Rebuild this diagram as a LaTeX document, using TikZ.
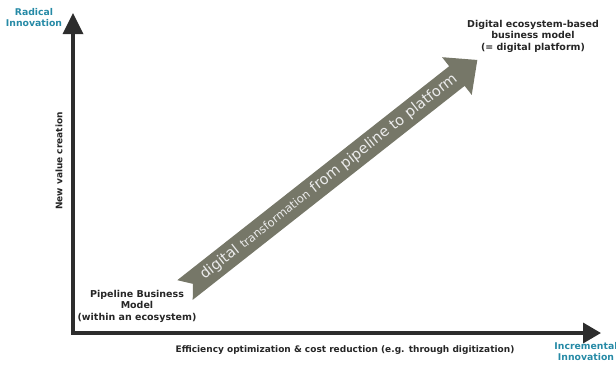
\documentclass[tikz,border=0pt]{standalone}
\usepackage{fontspec}
\setmainfont{DejaVu Sans}
\usepackage{tikz}
\usetikzlibrary{positioning,arrows.meta}

\definecolor{axisgray}{RGB}{45,45,45}
\definecolor{innoteal}{RGB}{38,138,166}
\definecolor{shiftolive}{RGB}{118,119,104}

\begin{document}
\begin{tikzpicture}[x=1pt,y=-1pt,
   axis/.style={draw=axisgray,line width=3.5pt,
                {Triangle[width=20pt,length=21pt]}-{Triangle[width=20pt,length=18pt]}},
   every node/.style={align=center,inner sep=0pt,text=black!85},
   modeltext/.style={font=\bfseries\fontsize{9.5}{11.5}\selectfont},
   poletext/.style={font=\bfseries\fontsize{9.3}{11}\selectfont,text=innoteal},
   axistext/.style={font=\bfseries\fontsize{9}{10}\selectfont},
   shifttext/.style={font=\fontsize{14.6}{14}\selectfont,text=white!92!black}]

\useasboundingbox (0,0) rectangle (616,365);

% axes
\coordinate (origin) at (73,333);
\coordinate (ytop)   at (73,13);
\coordinate (xend)   at (601,333);
\draw[axis] (ytop) -- (origin) -- (xend);

% pole and axis labels
\node[poletext] (radical) at (34,18) {Radical\\Innovation};
\node[poletext] (incremental) at (586,352) {Incremental\\Innovation};
\node[axistext,rotate=90] (yname) at (59,161) {New value creation};
\node[axistext] (xname) at (345,350)
   {Efficiency optimization \& cost reduction (e.g. through digitization)};

% the two business models
\node[modeltext] (pipeline) at (137,306) {Pipeline Business\\Model\\(within an ecosystem)};
\node[modeltext] (platform) at (533,36) {Digital ecosystem-based\\business model\\(= digital platform)};

% transformation arrow, notched tail
\begin{scope}[shift={(185,290)},rotate=38.2]
  \fill[shiftolive] (0,-12.5) -- (10,0) -- (0,12.5) -- (346,12.5) -- (346,24)
      -- (372,0) -- (346,-24) -- (346,-12.5) -- cycle;
  \node[shifttext,rotate=38.2] (shift) at (183,0)
      {digital {\fontsize{11.5}{11}\selectfont transformation} from pipeline to platform};
\end{scope}

\end{tikzpicture}
\end{document}
